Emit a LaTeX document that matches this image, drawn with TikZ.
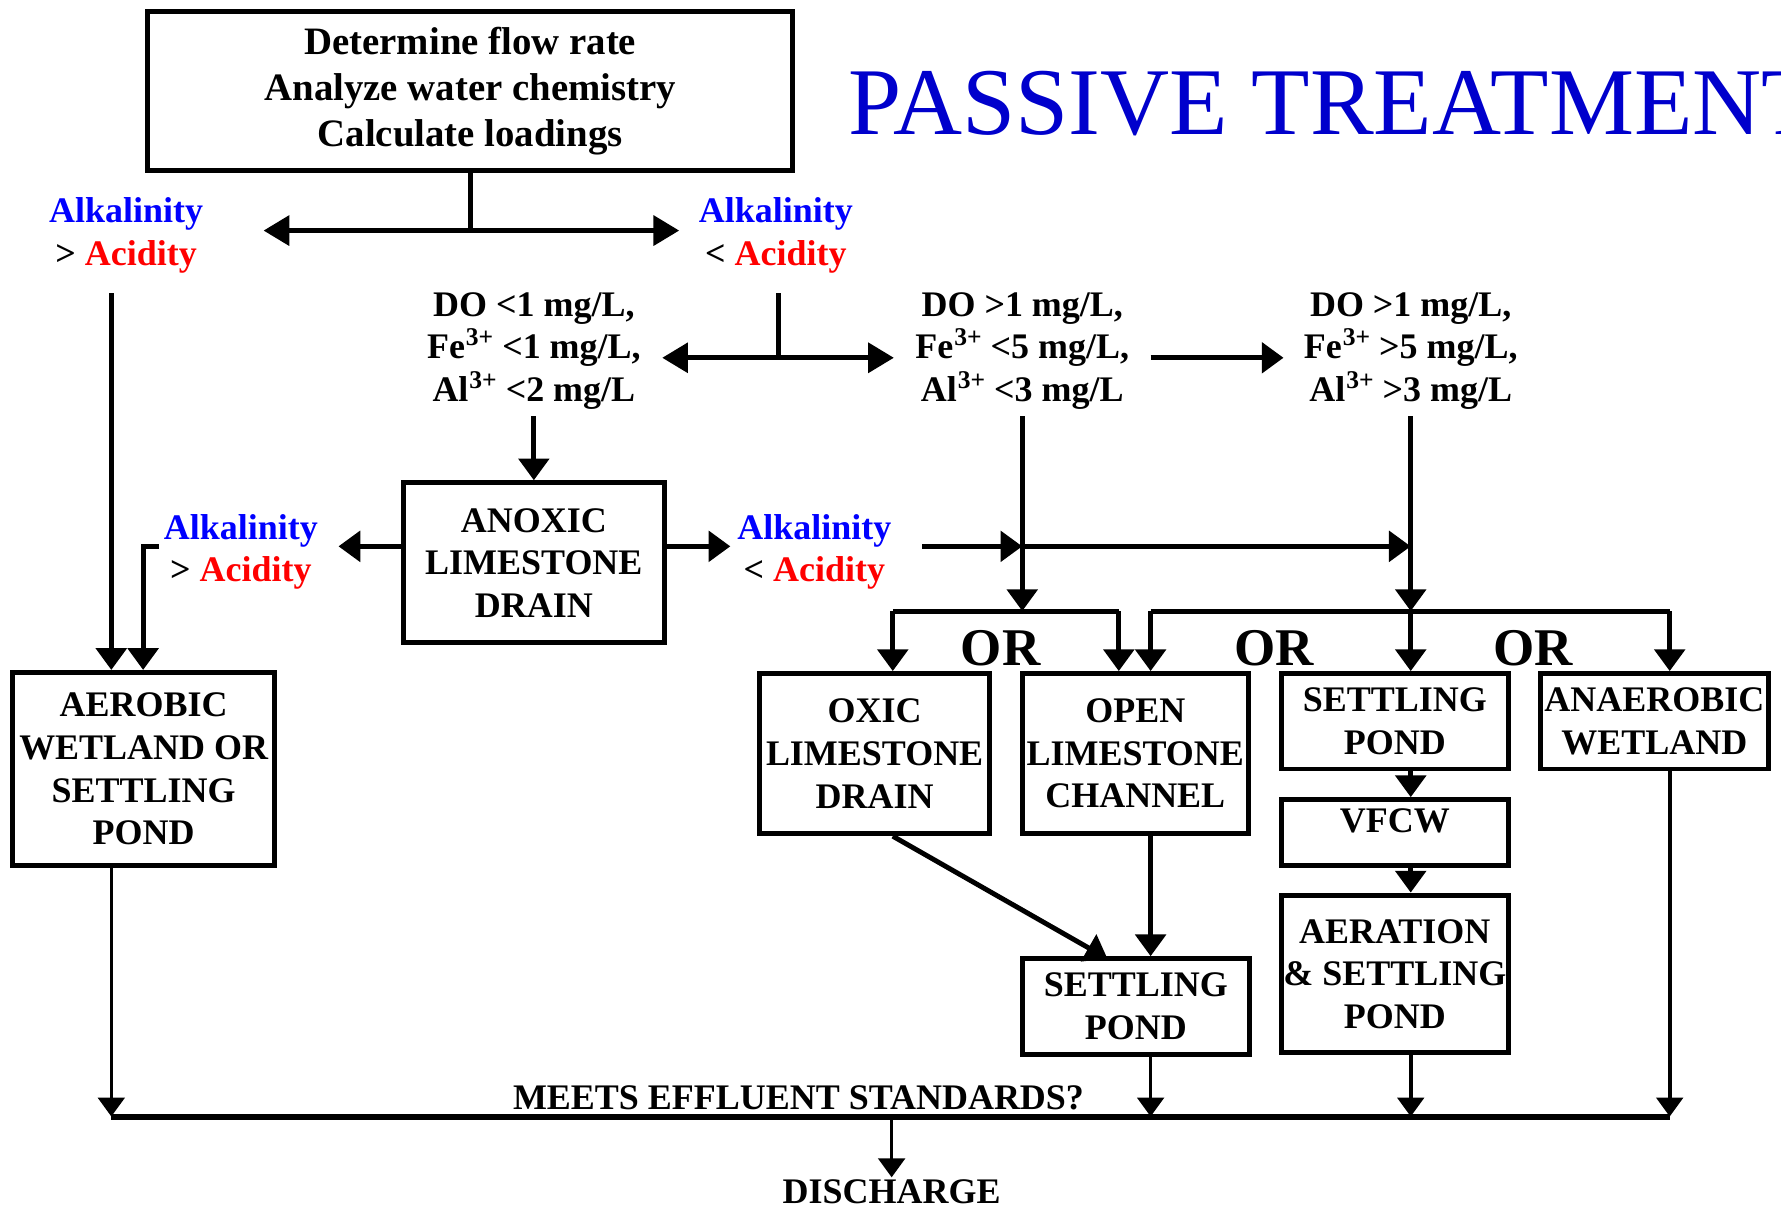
\documentclass[tikz,border=0pt]{standalone}
\usepackage{fontspec}
\setmainfont{Liberation Serif}
\usetikzlibrary{arrows.meta}

\definecolor{alkblue}{RGB}{0,0,255}
\definecolor{acidred}{RGB}{255,0,0}
\definecolor{titleblue}{RGB}{0,0,204}
\newcommand{\boxfont}{\fontsize{19}{22.5}\selectfont\bfseries}
\newcommand{\topfont}{\fontsize{20.5}{24.3}\selectfont\bfseries}
\newcommand{\ion}[1]{\kern0.5pt\raisebox{7pt}{\fontsize{13.5}{13.5}\selectfont #1}}

\begin{document}
\begin{tikzpicture}[x=0.6pt,y=-0.6pt,
    box/.style={draw,line width=2.6pt,align=center,font=\boxfont,inner sep=0pt},
    lbl/.style={align=center,font=\boxfont},
    orlbl/.style={font=\fontsize{28}{30}\selectfont\bfseries,inner sep=0pt},
    line/.style={line width=2.6pt},
    link/.style={line width=2.6pt,-{Triangle[length=11.5pt,width=16pt]}},
    sink/.style={line width=1.9pt,-{Triangle[length=10pt,width=14pt]}},
    dlink/.style={line width=2.8pt,{Triangle[length=13.6pt,width=15.5pt]}-{Triangle[length=13.6pt,width=15.5pt]}},
    bar/.style={line width=3.2pt}]
    \useasboundingbox (0,0) rectangle (1568,1063);

    % Titre
    \node[anchor=base west,inner sep=0pt,text=titleblue,font=\fontsize{50.5}{55}\selectfont] (title) at (747,118) {PASSIVE TREATMENT};

    % Départ
    \node[box,font=\topfont,minimum width=340.8pt,minimum height=84pt] (start) at (414,80) {Determine flow rate\\Analyze water chemistry\\Calculate loadings};
    \node[lbl] (alk1) at (111,207) {\textcolor{alkblue}{Alkalinity}\\> \textcolor{acidred}{Acidity}};
    \node[lbl] (alk2) at (683,207) {\textcolor{alkblue}{Alkalinity}\\< \textcolor{acidred}{Acidity}};

    \coordinate (j0) at (414,203);
    \coordinate (a0L) at (232,203);
    \coordinate (a0R) at (598,203);
    \draw[line] (start.south) -- (j0);
    \draw[dlink] (a0L) -- (a0R);

    % Conditions
    \node[lbl] (do1) at (470,309) {DO <1 mg/L,\\Fe\ion{3+} <1 mg/L,\\Al\ion{3+} <2 mg/L};
    \node[lbl] (do2) at (900,309) {DO >1 mg/L,\\Fe\ion{3+} <5 mg/L,\\Al\ion{3+} <3 mg/L};
    \node[lbl] (do3) at (1242,309) {DO >1 mg/L,\\Fe\ion{3+} >5 mg/L,\\Al\ion{3+} >3 mg/L};

    \coordinate (l0) at (98,258);
    \coordinate (r0) at (685,258);
    \coordinate (j1) at (685,315);
    \coordinate (a1L) at (583,315);
    \coordinate (a1R) at (787,315);
    \coordinate (a2s) at (1013,315);
    \coordinate (a2e) at (1130,315);
    \draw[line] (r0) -- (j1);
    \draw[dlink] (a1L) -- (a1R);
    \draw[link] (a2s) -- (a2e);

    % ALD
    \node[box,minimum width=138pt,minimum height=84.6pt] (anoxic) at (470,495.5) {ANOXIC\\LIMESTONE\\DRAIN};
    \node[lbl] (alk3) at (212,486) {\textcolor{alkblue}{Alkalinity}\\> \textcolor{acidred}{Acidity}};
    \node[lbl] (alk4) at (717,486) {\textcolor{alkblue}{Alkalinity}\\< \textcolor{acidred}{Acidity}};
    \draw[link] (do1.south) -- (anoxic.north);

    \coordinate (l1) at (298,481);
    \coordinate (l2) at (140,481);
    \coordinate (l3) at (126,481);
    \coordinate (r1) at (643,481);
    \coordinate (r2) at (812,481);
    \coordinate (r3) at (900,481);
    \coordinate (r4) at (1242,481);
    \draw[link] (anoxic.west |- l1) -- (l1);
    \draw[link] (anoxic.east |- r1) -- (r1);

    % Traitements
    \node[box,minimum width=138.6pt,minimum height=102pt] (aerobic) at (126.5,677) {AEROBIC\\WETLAND OR\\SETTLING\\POND};
    \node[box,minimum width=121.2pt,minimum height=84.6pt] (oxic) at (770,663.5) {OXIC\\LIMESTONE\\DRAIN};
    \node[box,minimum width=119.4pt,minimum height=84.6pt] (open) at (999.5,663.5) {OPEN\\LIMESTONE\\CHANNEL};
    \node[box,minimum width=120pt,minimum height=50.4pt] (settling1) at (1228,635) {SETTLING\\POND};
    \node[box,minimum width=120.6pt,minimum height=50.4pt] (anaerobic) at (1456.5,635) {ANAEROBIC\\WETLAND};
    \node[box,minimum width=120pt,minimum height=34.8pt,text height=12.6pt,text depth=13.2pt] (vfcw) at (1228,733) {VFCW};
    \node[box,minimum width=120pt,minimum height=83.4pt] (aeration) at (1228,857.5) {AERATION\\\& SETTLING\\POND};
    \node[box,minimum width=120pt,minimum height=50.4pt] (settling2) at (1000,886) {SETTLING\\POND};

    \draw[link] (l0) -- (l0 |- aerobic.north);
    \draw[link] (l2) -- (l3) -- (l3 |- aerobic.north);
    \draw[link] (r2) -- (r3);
    \draw[link] (r3) -- (r4);

    \coordinate (b1) at (900,538);
    \coordinate (b2) at (1242,538);
    \coordinate (o1) at (786,538);
    \coordinate (o2) at (985,538);
    \coordinate (o3) at (1013,538);
    \coordinate (o5) at (1470,538);
    \draw[link] (do2.south) -- (b1);
    \draw[link] (do3.south) -- (b2);
    \draw[line] (o1) -- (o2);
    \draw[line] (o3) -- (o5);
    \draw[link] (o1) -- (o1 |- oxic.north);
    \draw[link] (o2) -- (o2 |- open.north);
    \draw[link] (o3) -- (o3 |- open.north);
    \draw[link] (b2) -- (b2 |- settling1.north);
    \draw[link] (o5) -- (o5 |- anaerobic.north);

    \node[orlbl] (or1) at (881,571) {OR};
    \node[orlbl] (or2) at (1122,571) {OR};
    \node[orlbl] (or3) at (1350,571) {OR};

    \coordinate (s2in) at (975,844);
    \draw[link] (o1 |- oxic.south) -- (s2in);
    \draw[link] (o3 |- open.south) -- (o3 |- settling2.north);
    \draw[link] (b2 |- settling1.south) -- (b2 |- vfcw.north);
    \draw[link] (b2 |- vfcw.south) -- (b2 |- aeration.north);

    % Rejet
    \coordinate (m0) at (98,983);
    \coordinate (m1) at (1470,983);
    \coordinate (d0) at (785,983);
    \node[lbl,inner sep=1pt] (meets) at (703,966.5) {MEETS EFFLUENT STANDARDS?};
    \node[lbl,inner sep=1pt,anchor=base] (discharge) at (785,1059.5) {DISCHARGE};
    \draw[bar] (m0) -- (m1);
    \draw[sink] (l0 |- aerobic.south) -- (m0);
    \draw[sink] (o3 |- settling2.south) -- (o3 |- m0);
    \draw[sink] (b2 |- aeration.south) -- (b2 |- m0);
    \draw[sink] (o5 |- anaerobic.south) -- (m1);
    \draw[sink] (d0) -- (discharge.north);
\end{tikzpicture}
\end{document}
